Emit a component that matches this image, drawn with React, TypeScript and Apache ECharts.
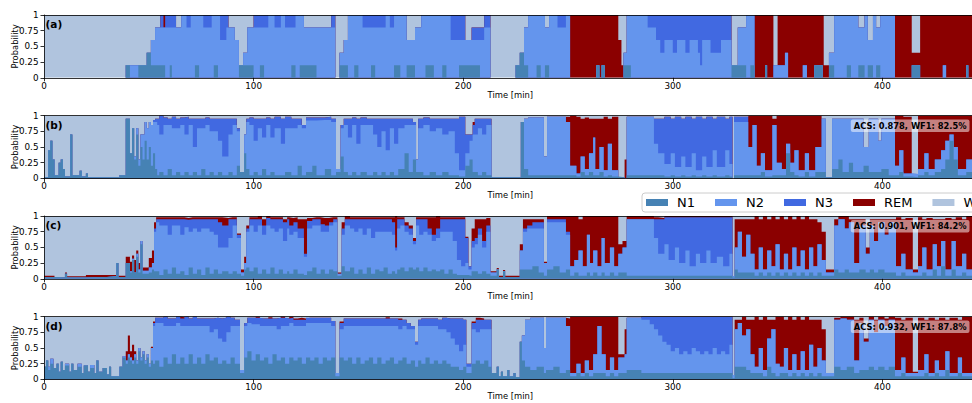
import React, { useEffect, useRef } from 'react';
import * as echarts from 'echarts';

// ---------------- data ----------------
const stages = ['N1', 'N2', 'N3', 'REM', 'W'];
const stageColors = ['#4682B4', '#6495ED', '#4169E1', '#8B0000', '#B0C4DE'];
const panelLabels = ['(a)', '(b)', '(c)', '(d)'];
const acs = [null, 0.878, 0.901, 0.932];
const wf1 = [null, 82.5, 84.2, 87.8];
const xTicks = [0, 100, 200, 300, 400];
const yTickLabels = ['0', '0.25', '0.5', '0.75', '1'];
const endTime = 460;

// rows: [start minute, P(N1), P(N2), P(N3), P(REM)]  (W = remainder); value holds until next row
const panelA: number[][] = [
  [0, 0, 0, 0, 0], [39, .2, 0, 0, 0], [41, 0, .2, 0, 0], [45, .2, 0, 0, 0], [49, .4, 0, 0, 0],
  [51, .2, .4, 0, 0], [53, .2, .6, 0, 0], [55.5, .2, .6, .2, 0], [57, .2, .6, 0, .2], [57.8, 0, .8, .2, 0],
  [60, .2, .6, .2, 0], [61, 0, .8, .2, 0], [63, 0, .8, 0, 0], [65.5, 0, 1, 0, 0], [68, 0, .8, .2, 0],
  [70, 0, 1, 0, 0], [72, .2, .8, 0, 0], [74, 0, 1, 0, 0], [76, 0, .8, .2, 0], [80, 0, 1, 0, 0],
  [81, .2, .8, 0, 0], [83, 0, 1, 0, 0], [84, 0, .6, .4, 0], [87, 0, .8, .2, 0], [88, 0, .8, 0, 0],
  [91, 0, .6, 0, 0], [93, .2, 0, 0, 0], [95, .2, .2, 0, 0], [97, .2, .6, 0, 0], [100, 0, .8, .2, 0],
  [103, .2, .6, .2, 0], [105, 0, .8, .2, 0], [107, 0, 1, 0, 0], [110, 0, .8, .2, 0], [113, 0, 1, 0, 0],
  [115, 0, .8, .2, 0], [118, .2, .6, .2, 0], [120, 0, 1, 0, 0], [122, .2, .8, 0, 0], [124, .2, .6, 0, 0],
  [130, 0, .8, 0, 0], [137, 0, .8, .2, 0], [139, 0, 0, 0, 0], [141, .2, .2, 0, 0], [143, .2, .4, 0, 0],
  [145, 0, 1, 0, 0], [148, .2, .8, 0, 0], [150, 0, 1, 0, 0], [152, 0, .8, .2, 0], [156, .2, .6, .2, 0],
  [158, 0, .8, .2, 0], [163, 0, 1, 0, 0], [165, 0, .8, .2, 0], [167, .2, .8, 0, 0], [170, 0, 1, 0, 0],
  [173, .2, .4, 0, 0], [177, 0, .8, 0, 0], [180, 0, 1, 0, 0], [182, .2, .8, 0, 0], [186, 0, 1, 0, 0],
  [190, .2, .8, 0, 0], [192, 0, 1, 0, 0], [194, 0, .6, .4, 0], [198, .2, .4, .4, 0], [201, .2, .4, 0, 0],
  [204, .2, .4, .2, 0], [208, 0, .6, .2, 0], [210, 0, .8, .2, 0], [213, 0, 0, 0, 0], [225, .2, 0, 0, 0],
  [227, .4, 0, 0, 0], [229, .2, .6, 0, 0], [231, 0, 1, 0, 0], [235, .2, .8, 0, 0], [237, 0, 1, 0, 0],
  [239, .2, .6, 0, 0], [241, 0, 1, 0, 0], [245, 0, .8, .2, 0], [249, 0, 1, 0, 0], [251, 0, 0, 0, 1],
  [263.5, .2, 0, 0, .8], [265, 0, 0, 0, 1], [266, .2, 0, 0, .8], [267.5, 0, 0, 0, 1], [274, 0, 0, 0, .6],
  [275.5, 0, 0, 0, .2], [276.5, .2, .2, 0, 0], [278, .2, .8, 0, 0], [280, 0, 1, 0, 0], [288, 0, .8, .2, 0],
  [292, 0, .6, .4, 0], [294, 0, .4, .6, 0], [296, 0, .6, .4, 0], [300, 0, .4, .6, 0], [302, 0, .6, .4, 0],
  [306, 0, .4, .6, 0], [308, 0, .6, .4, 0], [312, 0, .4, .6, 0], [313, 0, .2, .8, 0], [314, 0, .6, .4, 0],
  [318, 0, .4, .6, 0], [323, 0, .6, .4, 0], [328, .2, 0, 0, 0], [331, .2, .6, 0, 0], [335, 0, 1, 0, 0],
  [337, .2, .8, 0, 0], [339, 0, 0, 0, 1], [344, .2, 0, 0, .8], [345, 0, 0, 0, 1], [348, 0, .2, 0, 0],
  [350, 0, .2, 0, .8], [353.5, 0, .4, 0, .6], [355, 0, 0, 0, 1], [362, 0, .2, 0, .8], [364, 0, 0, 0, 1],
  [367.5, .2, 0, 0, .8], [371.5, 0, 0, 0, 1], [372, 0, 0, 0, .2], [374.5, .2, .2, 0, 0], [377, 0, 1, 0, 0],
  [383, .2, .8, 0, 0], [385, 0, 1, 0, 0], [388.5, .2, .6, 0, 0], [391.5, 0, 1, 0, 0], [393, .2, .4, 0, 0],
  [395.5, 0, 1, 0, 0], [397, .2, .6, 0, 0], [399, 0, 1, 0, 0], [406, 0, 0, 0, 1], [414, .2, 0, 0, .2],
  [418, 0, 0, 0, 1], [428.8, 0, .2, 0, .8], [430.4, 0, 0, 0, 1], [440, .2, 0, 0, .8], [441, 0, 0, 0, 1],
];

const panelB: number[][] = [
  [0, .02, 0, 0, 0], [2, .45, 0, 0, 0], [3, .6, 0, 0, 0], [4, .3, 0, 0, 0], [5, .05, 0, 0, 0],
  [7, .25, 0, 0, 0], [8, .3, 0, 0, 0], [9, .15, 0, 0, 0], [10, .03, 0, 0, 0], [12.5, .7, 0, 0, 0],
  [13.5, .05, 0, 0, 0], [17, .12, 0, 0, 0], [18, .03, 0, 0, 0], [20, .08, 0, 0, 0], [21, .02, 0, 0, 0],
  [36, .05, 0, 0, 0], [39, .95, 0, 0, 0], [41, .4, 0, 0, 0], [42, .8, 0, 0, 0], [43, .3, .05, 0, 0],
  [44, .7, .1, 0, 0], [45, .2, .1, 0, 0], [46, .5, .2, 0, 0], [47, .3, .4, 0, 0], [48, .6, .3, 0, 0],
  [49, .3, .5, 0, 0], [50, .5, .4, 0, 0], [51, .2, .65, 0, 0], [52, .4, .5, .03, 0], [53, .15, .75, .05, 0],
  [54, .05, .8, .1, 0], [55, .1, .6, .3, 0], [57, .05, .8, .12, 0], [59, .15, .7, .1, 0], [61, .05, .75, .18, 0],
  [63, .1, .7, .15, 0], [65, .05, .8, .12, 0], [67, .1, .6, .28, 0], [69, .05, .8, .1, 0], [71, .1, .4, .45, 0],
  [73, .05, .75, .15, 0], [75, .15, .65, .15, 0], [77, .05, .8, .12, 0], [79, .1, .65, .2, 0], [81, .05, .7, .2, 0],
  [83, .1, .5, .35, 0], [85, .05, .3, .6, 0], [88, .1, .6, .25, 0], [90, .05, .8, .1, 0], [92, .2, .55, .05, 0],
  [93.5, .1, 0, 0, 0], [95.5, .4, .3, 0, 0], [96.5, .15, .75, .05, 0], [98, .05, .8, .12, 0], [100, .1, .5, .35, 0],
  [102, .05, .75, .15, 0], [104, .15, .5, .3, 0], [106, .05, .8, .12, 0], [108, .1, .55, .3, 0], [110, .05, .75, .18, 0],
  [113, .05, .5, .4, 0], [115, .1, .7, .18, 0], [118, .05, .75, .15, 0], [121, .2, .65, .1, 0], [123, .05, .75, .05, 0],
  [125, .1, .82, .05, 0], [128, .2, .72, .05, 0], [130, .05, .88, .04, 0], [134, .15, .78, .05, 0], [137, .05, .85, .05, 0],
  [139.3, .1, .05, 0, 0], [141.5, .35, .45, .05, 0], [143, .1, .75, .1, 0], [145, .05, .6, .3, 0], [147, .1, .75, .12, 0],
  [149, .05, .5, .4, 0], [151, .1, .75, .12, 0], [154, .05, .8, .1, 0], [157, .1, .6, .25, 0], [159, .05, .45, .45, 0],
  [161, .1, .65, .2, 0], [163, .05, .4, .5, 0], [165, .1, .7, .15, 0], [167, .05, .5, .4, 0], [169, .15, .65, .15, 0],
  [172, .4, .45, .1, 0], [174, .1, .75, .1, 0], [176, .3, .55, .05, 0], [177.5, .1, .2, 0, 0], [178.5, .1, .7, .15, 0],
  [181, .05, .8, .12, 0], [184, .1, .65, .2, 0], [187, .05, .75, .15, 0], [190, .1, .6, .25, 0], [193, .05, .7, .2, 0],
  [196, .05, .35, .55, 0], [198, .03, .1, .85, 0], [201, .2, .2, .3, 0], [203, .3, .3, .1, 0], [204.5, .1, .6, .15, .05],
  [205.5, .1, .6, .25, 0], [207, .05, .75, .15, 0], [209, .1, .6, .25, 0], [211, .05, .8, .1, 0], [213.5, .02, 0, 0, 0],
  [227.5, .9, 0, 0, 0], [229, .15, .8, 0, 0], [231, .05, .92, 0, 0], [238.5, .05, .3, 0, 0], [240, .05, .93, 0, 0],
  [249, .05, .85, 0, .08], [251, .05, .15, 0, .8], [254, .03, .05, 0, .9], [256, .1, .25, 0, .6], [258, .05, .1, 0, .82],
  [260, .1, .3, 0, .55], [262, .05, .6, 0, .3], [263, .05, .1, 0, .8], [265, .1, .4, 0, .45], [267, .03, .1, 0, .85],
  [269, .05, .5, 0, .4], [271, .03, .1, 0, .85], [274, .02, 0, 0, 0], [277, 0, 0, 0, .3], [278, .05, .93, 0, 0],
  [291, .05, .5, .4, 0], [293, .05, .35, .55, 0], [296, .03, .2, .75, 0], [299, .05, .35, .55, 0], [301, .03, .15, .8, 0],
  [304, .05, .3, .6, 0], [306, .03, .15, .8, 0], [309, .05, .35, .55, 0], [311, .03, .1, .85, 0], [314, .05, .3, .6, 0],
  [316, .03, .15, .8, 0], [319, .05, .4, .5, 0], [321, .03, .15, .8, 0], [325, .05, .4, .5, 0], [327, .03, .2, .75, 0],
  [328.5, 0, 0, 0, 0], [329.2, .05, .85, .08, 0], [336, .05, .45, 0, .5], [338, .05, .8, 0, .15], [340, .05, .15, 0, .8],
  [342, .1, .3, 0, .6], [344, .03, .1, 0, .87], [347.5, .05, .8, 0, .1], [349.5, .05, .2, 0, .75], [352, .05, .1, 0, .85],
  [354, .4, .15, 0, .45], [356, .1, .15, 0, .75], [358, .05, .4, 0, .55], [360, .03, .1, 0, .87], [363, .1, .3, 0, .6],
  [365, .03, .1, 0, .87], [368, .1, .4, 0, .5], [371, .1, .85, 0, 0], [373, .02, 0, 0, 0], [376, .15, .8, 0, 0],
  [379, .3, .65, 0, 0], [381, .1, .85, 0, 0], [384, .25, .7, 0, 0], [386, .1, .85, 0, 0], [391, .2, .3, 0, 0],
  [393.5, .1, .85, 0, 0], [398, .1, .5, 0, 0], [399.5, .15, .8, 0, 0], [403, .05, .9, 0, 0], [406, .05, .15, 0, .8],
  [408, .1, .35, 0, .55], [410, .03, .05, 0, .9], [414, .02, .05, 0, 0], [417, .05, .1, 0, .85], [420, .1, .3, 0, .6],
  [422, .05, .1, 0, .85], [425, .1, .2, 0, .7], [428, .15, .3, 0, .55], [430, .3, .3, 0, .4], [432, .6, .1, 0, .3],
  [434, .3, .2, 0, .5], [436, .05, .1, 0, .85], [440, .1, .2, 0, .7],
];

const panelC: number[][] = [
  [0, .03, 0, 0, .02], [5, .02, 0, 0, .01], [10, .08, 0, 0, .02], [11, .02, 0, 0, .02], [20, .03, 0, 0, .03],
  [30, .04, 0, 0, .02], [34.5, .25, 0, 0, 0], [35.5, .03, 0, 0, .02], [39, .25, 0, 0, .1], [41, .1, .02, 0, .15],
  [42, .3, .02, 0, .05], [43, .1, 0, 0, .2], [44, .35, .05, 0, .05], [45, .1, .05, 0, .1], [46, .55, .05, 0, 0],
  [47, .08, .05, 0, .05], [50, .1, .08, 0, .15], [51.5, .15, .1, 0, .2], [52.5, .12, .63, .05, .1], [53.5, .12, .78, .05, .03],
  [55, .06, .79, .1, .03], [57, .15, .7, .1, .03], [59, .08, .62, .25, .03], [61, .18, .67, .1, .03], [63, .08, .77, .1, .03],
  [65, .12, .58, .25, .03], [67, .06, .76, .12, .03], [69, .18, .57, .2, .03], [71, .08, .72, .15, .03], [73, .15, .6, .2, .03],
  [75, .06, .74, .15, .03], [77, .18, .62, .15, .03], [79, .08, .67, .2, .03], [81, .15, .55, .25, .03], [83, .08, .42, .4, .08],
  [85, .12, .38, .35, .12], [88, .08, .57, .3, .03], [90, .12, .73, .1, .03], [92, .08, .57, .05, .02], [94, .05, .05, 0, .05],
  [95.5, .15, .1, 0, .1], [96.5, .18, .57, .05, .05], [98, .12, .73, .1, .03], [100, .18, .57, .2, .03], [102, .08, .77, .1, .05],
  [104, .15, .55, .15, .1], [106, .08, .77, .12, .03], [108, .18, .62, .15, .03], [110, .08, .67, .2, .03], [112, .15, .65, .15, .03],
  [114, .08, .52, .3, .05], [116, .12, .68, .15, .03], [117, .08, .62, .15, .12], [119, .15, .6, .15, .08], [121, .08, .57, .15, .15],
  [124, .06, .29, .05, .55], [125.5, .12, .68, .12, .05], [128, .18, .67, .1, .03], [130, .08, .77, .1, .03], [132, .15, .6, .12, .1],
  [134, .08, .67, .1, .12], [136, .15, .7, .05, .08], [138, .12, .78, .05, .03], [140, .05, .03, 0, .02], [142, .2, .5, .1, .1],
  [143.5, .12, .73, .1, .05], [146, .18, .62, .15, .03], [148, .08, .67, .2, .03], [150, .15, .65, .15, .03], [152, .08, .62, .25, .03],
  [154, .18, .62, .15, .03], [156, .08, .57, .3, .03], [158, .15, .6, .2, .03], [160, .12, .63, .2, .03], [162, .18, .57, .2, .03],
  [164, .08, .67, .2, .03], [166, .12, .58, .2, .08], [167.5, .08, .37, .05, .5], [168.5, .15, .65, .15, .03], [170, .18, .67, .1, .03],
  [172, .12, .63, .1, .05], [174, .18, .52, .1, .05], [176, .15, .4, .05, .05], [177.5, .18, .67, .1, .03], [179, .12, .58, .25, .03],
  [181, .18, .57, .2, .03], [183, .12, .58, .1, .18], [185, .15, .45, .1, .28], [187, .12, .53, .15, .2], [189, .15, .6, .2, .03],
  [191, .08, .67, .2, .03], [193, .15, .6, .2, .03], [195, .08, .52, .35, .03], [197, .06, .24, .65, .03], [199, .06, .14, .75, .03],
  [201, .06, .19, .4, .02], [202.5, .05, .1, .05, 0], [204, .12, .38, .1, .2], [205.5, .12, .43, .1, .3], [207, .08, .62, .1, .15],
  [209, .12, .38, .1, .35], [211, .08, .67, .1, .12], [213, .05, .05, 0, .02], [216, .15, 0, 0, .02], [217, .03, 0, 0, .02],
  [219, .12, 0, 0, .02], [220, .03, 0, 0, .02], [227, .15, .3, 0, .1], [228.5, .15, .6, .05, .15], [230.5, .15, .65, .05, .1],
  [233, .2, .6, .1, .05], [236, .1, .7, .1, .05], [238.5, .05, .2, 0, .02], [240, .15, .75, .05, .05], [243, .2, .7, .05, .05],
  [246, .1, .8, .05, .05], [249, .15, .55, .05, .25], [251, .05, .15, 0, .8], [253, .1, .2, 0, .7], [255, .05, .4, 0, .5],
  [257, .05, .15, 0, .8], [259, .1, .6, 0, .3], [260.5, .05, .2, 0, .75], [262, .1, .35, 0, .55], [264, .05, .15, 0, .8],
  [266, .1, .55, 0, .35], [267.5, .05, .2, 0, .75], [270, .1, .4, 0, .5], [272, .05, .15, 0, .8], [274, .1, .3, 0, .15],
  [276, .1, .4, 0, .1], [278, .05, .9, 0, .05], [291, .05, .6, .3, .03], [293, .05, .35, .55, .02], [296, .05, .5, .43, .02],
  [298, .05, .25, .68, .02], [301, .05, .45, .48, .02], [303, .05, .2, .73, .02], [306, .05, .4, .53, .02], [308, .05, .15, .78, .02],
  [311, .05, .35, .58, .02], [313, .05, .2, .73, .02], [316, .05, .4, .53, .02], [318, .05, .2, .73, .02], [321, .05, .3, .63, .02],
  [324, .05, .15, .78, .02], [327, .05, .35, .58, .02], [328.5, .02, .02, 0, 0], [329.5, .15, .35, 0, .45], [331, .1, .65, 0, .2],
  [333, .1, .25, 0, .6], [335, .1, .6, 0, .25], [337, .1, .3, 0, .55], [339, .05, .1, 0, .85], [341, .1, .4, 0, .45],
  [343, .05, .1, 0, .85], [345, .1, .35, 0, .5], [347, .05, .15, 0, .8], [349, .1, .45, 0, .4], [351, .05, .1, 0, .85],
  [353, .1, .3, 0, .55], [355, .05, .1, 0, .85], [357, .1, .4, 0, .45], [359, .05, .15, 0, .8], [361, .1, .35, 0, .5],
  [363, .05, .1, 0, .85], [365, .1, .4, 0, .45], [367, .05, .15, 0, .75], [369, .1, .45, 0, .35], [371, .05, .25, 0, .45],
  [373, .05, .05, 0, .05], [377, .15, .7, 0, .1], [379, .1, .85, 0, .05], [382, .15, .65, 0, .2], [384, .1, .8, 0, .05],
  [386.5, .1, .15, 0, .7], [389, .15, .7, 0, .1], [392, .1, .3, 0, .1], [394, .15, .7, 0, .1], [396, .1, .5, 0, .35],
  [398, .15, .75, 0, .05], [401, .1, .6, 0, .25], [403, .1, .8, 0, .05], [406.5, .05, .15, 0, .78], [409, .1, .3, 0, .55],
  [411, .05, .1, 0, .82], [414.5, .05, .05, 0, .05], [417, .05, .15, 0, .78], [419, .1, .4, 0, .45], [421, .05, .1, 0, .82],
  [424, .15, .4, 0, .4], [426, .05, .15, 0, .75], [428, .2, .4, 0, .35], [430, .05, .1, 0, .82], [433, .15, .45, 0, .35],
  [435, .05, .15, 0, .78], [438, .1, .3, 0, .55], [440, .05, .1, 0, .85],
];

const panelD: number[][] = [
  [0, .2, 0, 0, 0], [1, .3, 0, 0, 0], [2, .15, .05, 0, 0], [3, .25, .08, 0, 0], [4.5, .18, 0, 0, 0],
  [6, .25, 0, 0, 0], [7, .12, 0, 0, 0], [8, .28, 0, 0, 0], [9, .15, 0, 0, 0], [10, .22, .03, 0, 0],
  [12, .12, 0, 0, 0], [13, .25, 0, 0, 0], [14, .15, 0, 0, 0], [16, .2, .05, 0, 0], [18, .1, 0, 0, 0],
  [19, .22, 0, 0, 0], [21, .12, 0, 0, 0], [22, .18, .05, 0, 0], [24, .1, 0, 0, 0], [25, .3, 0, 0, 0],
  [26, .12, 0, 0, 0], [28, .18, 0, 0, 0], [30, .08, 0, 0, 0], [31, .2, 0, 0, 0], [32, .05, 0, 0, 0],
  [36, .2, 0, 0, 0], [37.5, .35, .02, 0, 0], [39, .25, .05, 0, .15], [40, .35, .05, 0, .3], [41, .3, .05, 0, .1],
  [42, .25, .05, 0, .25], [43, .35, .05, 0, .05], [44, .25, .05, 0, 0], [45, .45, .05, 0, 0], [46, .3, .05, 0, 0],
  [47, .4, .05, 0, 0], [48, .25, .05, 0, 0], [49, .35, .05, 0, 0], [50, .2, .05, 0, 0], [51, .3, .2, 0, .02],
  [52, .25, .6, .05, .02], [53, .3, .6, .08, 0], [55, .2, .7, .08, 0], [57, .35, .5, .15, 0], [59, .25, .6, .12, 0],
  [61, .4, .45, .12, 0], [63, .25, .65, .1, 0], [65, .35, .5, .12, .02], [67, .25, .6, .15, 0], [69, .4, .45, .12, 0],
  [71, .25, .6, .15, 0], [73, .35, .5, .12, 0], [75, .25, .6, .12, 0], [77, .4, .45, .12, 0], [79, .3, .45, .22, 0],
  [81, .35, .45, .18, 0], [83, .25, .4, .32, 0], [85, .3, .3, .38, 0], [87, .25, .5, .25, 0], [89, .35, .5, .13, 0],
  [91, .25, .6, .1, 0], [93.5, .1, .05, 0, 0], [95.5, .35, .5, .05, 0], [97, .45, .45, .08, 0], [99, .3, .58, .1, 0],
  [101, .4, .48, .1, .02], [103, .3, .55, .12, 0], [105, .35, .5, .12, 0], [107, .25, .6, .12, .02], [109, .4, .45, .12, 0],
  [111, .3, .5, .18, 0], [113, .35, .5, .13, .02], [115, .25, .6, .12, 0], [117, .35, .55, .08, .02], [119, .3, .55, .1, .02],
  [121, .35, .5, .1, .03], [123, .25, .6, .1, .02], [125, .35, .55, .08, 0], [127, .3, .6, .08, 0], [129, .35, .55, .08, 0],
  [131, .25, .65, .08, 0], [133, .35, .55, .08, 0], [135, .3, .6, .08, 0], [137, .35, .5, .08, 0], [139, .05, .05, 0, 0],
  [141, .35, .45, .1, .02], [143, .3, .55, .12, 0], [145, .35, .5, .12, 0], [147, .25, .6, .12, 0], [149, .35, .5, .12, 0],
  [151, .25, .6, .12, 0], [153, .3, .55, .12, 0], [155, .35, .5, .12, 0], [157, .25, .6, .12, 0], [159, .35, .5, .12, 0],
  [161, .25, .6, .12, 0], [163, .3, .55, .12, .02], [165, .35, .5, .12, 0], [167, .25, .6, .12, 0], [169, .3, .5, .15, .02],
  [171, .35, .5, .1, 0], [173, .25, .55, .1, 0], [175, .3, .5, .05, 0], [177, .2, .35, .05, 0], [178.5, .3, .55, .1, 0],
  [180, .25, .6, .12, 0], [182, .35, .5, .12, 0], [184, .25, .6, .12, 0], [186, .3, .55, .12, 0], [188, .25, .55, .15, 0],
  [190, .3, .5, .18, 0], [192, .25, .5, .22, 0], [194, .2, .45, .32, 0], [196, .2, .35, .42, 0], [198, .15, .3, .52, 0],
  [200, .2, .35, .4, 0], [201.5, .1, .1, .05, 0], [204, .25, .55, .1, .02], [206, .3, .45, .2, .03], [208, .25, .55, .15, .02],
  [210, .3, .5, .15, 0], [212, .2, .6, .15, 0], [213.5, .1, 0, 0, 0], [216, .2, 0, 0, 0], [217, .05, 0, 0, 0],
  [218, .12, 0, 0, 0], [219, .05, 0, 0, 0], [221, .15, 0, 0, 0], [222, .05, 0, 0, 0], [224, .1, 0, 0, 0],
  [225, .04, 0, 0, 0], [227, .6, 0, 0, 0], [228, .3, .4, 0, 0], [229.5, .2, .75, 0, 0], [232, .15, .83, 0, 0],
  [235, .2, .78, 0, 0], [238.5, .1, .4, 0, 0], [239.5, .15, .83, 0, 0], [243, .2, .78, 0, 0], [246, .1, .88, 0, 0],
  [249, .15, .7, 0, .12], [251, .05, .05, 0, .9], [254, .1, .15, 0, .75], [256, .05, .05, 0, .9], [258, .1, .2, 0, .7],
  [260, .05, .1, 0, .85], [262, .1, .3, 0, .6], [264, .1, .75, 0, .15], [266, .1, .3, 0, .6], [268, .05, .1, 0, .85],
  [270, .1, .25, 0, .65], [272, .05, .1, 0, .85], [274, .1, .25, 0, .05], [277, .1, .3, 0, .4], [278, .15, .83, 0, 0],
  [285, .1, .85, .05, 0], [289, .1, .78, .12, 0], [291, .1, .7, .2, 0], [293, .1, .6, .3, 0], [295, .1, .5, .4, 0],
  [297, .1, .45, .45, 0], [299, .1, .35, .55, 0], [301, .1, .4, .5, 0], [303, .1, .3, .6, 0], [305, .1, .35, .55, 0],
  [307, .1, .3, .6, 0], [309, .1, .4, .5, 0], [311, .1, .35, .55, 0], [313, .1, .3, .6, 0], [315, .1, .35, .55, 0],
  [317, .1, .3, .6, 0], [319, .1, .4, .5, 0], [321, .1, .3, .6, 0], [323, .1, .35, .55, 0], [325, .1, .3, .6, 0],
  [327, .1, .45, .45, 0], [328.5, .02, .05, 0, 0], [329.5, .2, .6, 0, .15], [331, .2, .7, 0, .05], [333, .2, .5, 0, .3],
  [335, .15, .65, 0, .15], [337, .1, .3, 0, .55], [339, .1, .1, 0, .8], [341, .1, .4, 0, .45], [343, .05, .1, 0, .85],
  [345, .2, .45, 0, .3], [347, .1, .7, 0, .15], [349, .05, .2, 0, .75], [351, .1, .1, 0, .8], [353, .1, .4, 0, .45],
  [355, .05, .1, 0, .85], [357, .1, .3, 0, .55], [359, .05, .1, 0, .85], [361, .1, .35, 0, .5], [363, .05, .1, 0, .85],
  [365, .1, .45, 0, .4], [367, .05, .15, 0, .75], [369, .1, .4, 0, .45], [371, .05, .25, 0, .5], [373, .05, .05, 0, 0],
  [377, .2, .75, 0, .03], [380, .15, .82, 0, .03], [383, .2, .75, 0, .05], [386.5, .1, .2, 0, .65], [389, .15, .75, 0, .08],
  [391, .15, .45, 0, .05], [393.5, .2, .75, 0, .05], [396, .15, .6, 0, .2], [398, .2, .75, 0, .05], [401, .15, .7, 0, .12],
  [403, .2, .75, 0, .05], [406, .05, .1, 0, .83], [409, .1, .25, 0, .6], [411, .05, .05, 0, .88], [414.5, .05, .05, 0, .02],
  [417, .05, .1, 0, .83], [420, .1, .3, 0, .55], [422, .05, .05, 0, .88], [425, .1, .2, 0, .65], [427, .05, .1, 0, .83],
  [430, .15, .3, 0, .5], [432, .05, .05, 0, .88], [436, .1, .25, 0, .6], [438, .05, .05, 0, .9],
];

const panels = [panelA, panelB, panelC, panelD];

// ---------------- layout ----------------
const LEFT = 44;
const TOPS = [15, 115.6, 216, 316.6];
const HEIGHT = 62.8;
const XMAX = 445;
const PX_PER_MIN = 2.096;
const FONT = '"DejaVu Sans", "Liberation Sans", sans-serif';

function buildOption(): any {
  const grid: any[] = [];
  const xAxis: any[] = [];
  const yAxis: any[] = [];
  const series: any[] = [];
  const graphic: any[] = [];

  panels.forEach((rows, p) => {
    grid.push({
      left: LEFT, top: TOPS[p], width: XMAX * PX_PER_MIN, height: HEIGHT,
      containLabel: false, outerBoundsMode: 'none',
    });
    xAxis.push({
      type: 'value', gridIndex: p, min: 0, max: XMAX, interval: 100, position: 'bottom', z: 5,
      name: 'Time [min]', nameLocation: 'middle', nameGap: 13, nameMoveOverlap: false,
      nameTextStyle: { fontSize: 8.4, color: '#000', fontFamily: FONT },
      axisLine: { show: true, onZero: false, lineStyle: { color: '#000', width: 0.8 } },
      axisTick: { show: true, length: 3.5, lineStyle: { color: '#000', width: 0.8 } },
      axisLabel: {
        show: true, margin: 3.5, fontSize: 8.8, color: '#000', fontFamily: FONT, showMaxLabel: false,
        formatter: (v: number) => (xTicks.indexOf(v) >= 0 ? String(v) : ''),
      },
      splitLine: { show: false },
    });
    xAxis.push({
      type: 'value', gridIndex: p, min: 0, max: XMAX, position: 'top', z: 5,
      axisLine: { show: true, onZero: false, lineStyle: { color: '#000', width: 0.8 } },
      axisTick: { show: false }, axisLabel: { show: false }, splitLine: { show: false },
    });
    yAxis.push({
      type: 'value', gridIndex: p, min: 0, max: 1, interval: 0.25, z: 5,
      name: 'Probability', nameLocation: 'middle', nameGap: 25.5, nameMoveOverlap: false,
      nameTextStyle: { fontSize: 8.4, color: '#000', fontFamily: FONT },
      axisLine: { show: true, onZero: false, lineStyle: { color: '#000', width: 0.8 } },
      axisTick: { show: true, length: 3.5, lineStyle: { color: '#000', width: 0.8 } },
      axisLabel: {
        margin: 5.5, fontSize: 8.8, color: '#000', fontFamily: FONT,
        formatter: (v: number) => yTickLabels[Math.round(v * 4)] ?? '',
      },
      splitLine: { show: false },
    });

    const last = rows[rows.length - 1];
    const ext = [...rows, [endTime, last[1], last[2], last[3], last[4]]];
    // painter's stacking: draw cumulative tops from W (=1) down to N1, each filled from 0
    for (let k = 4; k >= 0; k--) {
      const data = ext.map((r) => {
        if (k === 4) return [r[0], 1];
        let s = 0;
        for (let j = 1; j <= k + 1; j++) s += r[j];
        return [r[0], Math.min(1, s)];
      });
      series.push({
        name: stages[k], type: 'line', step: 'end',
        xAxisIndex: p * 2, yAxisIndex: p,
        symbol: 'none', showSymbol: false, silent: true,
        color: stageColors[k],
        itemStyle: { color: stageColors[k], borderWidth: 0 },
        lineStyle: { width: 0, opacity: 0 },
        areaStyle: { color: stageColors[k], opacity: 1, origin: 'start' },
        data, z: 2,
      });
    }

    graphic.push({
      type: 'text', left: 45.5, top: TOPS[p] + 3.5, z: 20, silent: true,
      style: { text: panelLabels[p], font: `bold 10.5px ${FONT}`, fill: '#000' },
    });
    if (acs[p] != null) {
      graphic.push({
        type: 'text', x: 969.5, y: TOPS[p] + 10.2, z: 20, silent: true,
        style: {
          text: `ACS: ${(acs[p] as number).toFixed(3)}, WF1: ${(wf1[p] as number).toFixed(1)}%`,
          font: `bold 8.3px ${FONT}`, fill: '#000', align: 'right', verticalAlign: 'middle',
          backgroundColor: 'rgba(255,255,255,0.5)', padding: [2.5, 3, 2, 3], borderRadius: 2,
        },
      });
    }
  });

  return {
    animation: false,
    textStyle: { fontFamily: FONT },
    grid, xAxis, yAxis, series, graphic,
    legend: {
      show: true, left: 642, top: 193, width: 420, orient: 'horizontal',
      data: stages.map((s, i) => ({ name: s, icon: 'rect', itemStyle: { color: stageColors[i], borderWidth: 0 } })),
      itemWidth: 22, itemHeight: 7, itemGap: 20,
      padding: [3, 4, 3, 4],
      backgroundColor: '#fff', borderColor: '#cccccc', borderWidth: 1, borderRadius: 3,
      textStyle: { fontSize: 13, color: '#000', fontFamily: FONT, padding: [0, 0, 0, 4] },
      selectedMode: false,
    },
  };
}

export default function App() {
  const ref = useRef<HTMLDivElement>(null);
  useEffect(() => {
    document.body.style.margin = '0';
    if (!ref.current) return;
    const chart = echarts.init(ref.current, undefined, { renderer: 'svg' });
    chart.setOption(buildOption());
    return () => chart.dispose();
  }, []);
  return <div ref={ref} style={{ width: 972, height: 403, overflow: 'hidden' }} />;
}
